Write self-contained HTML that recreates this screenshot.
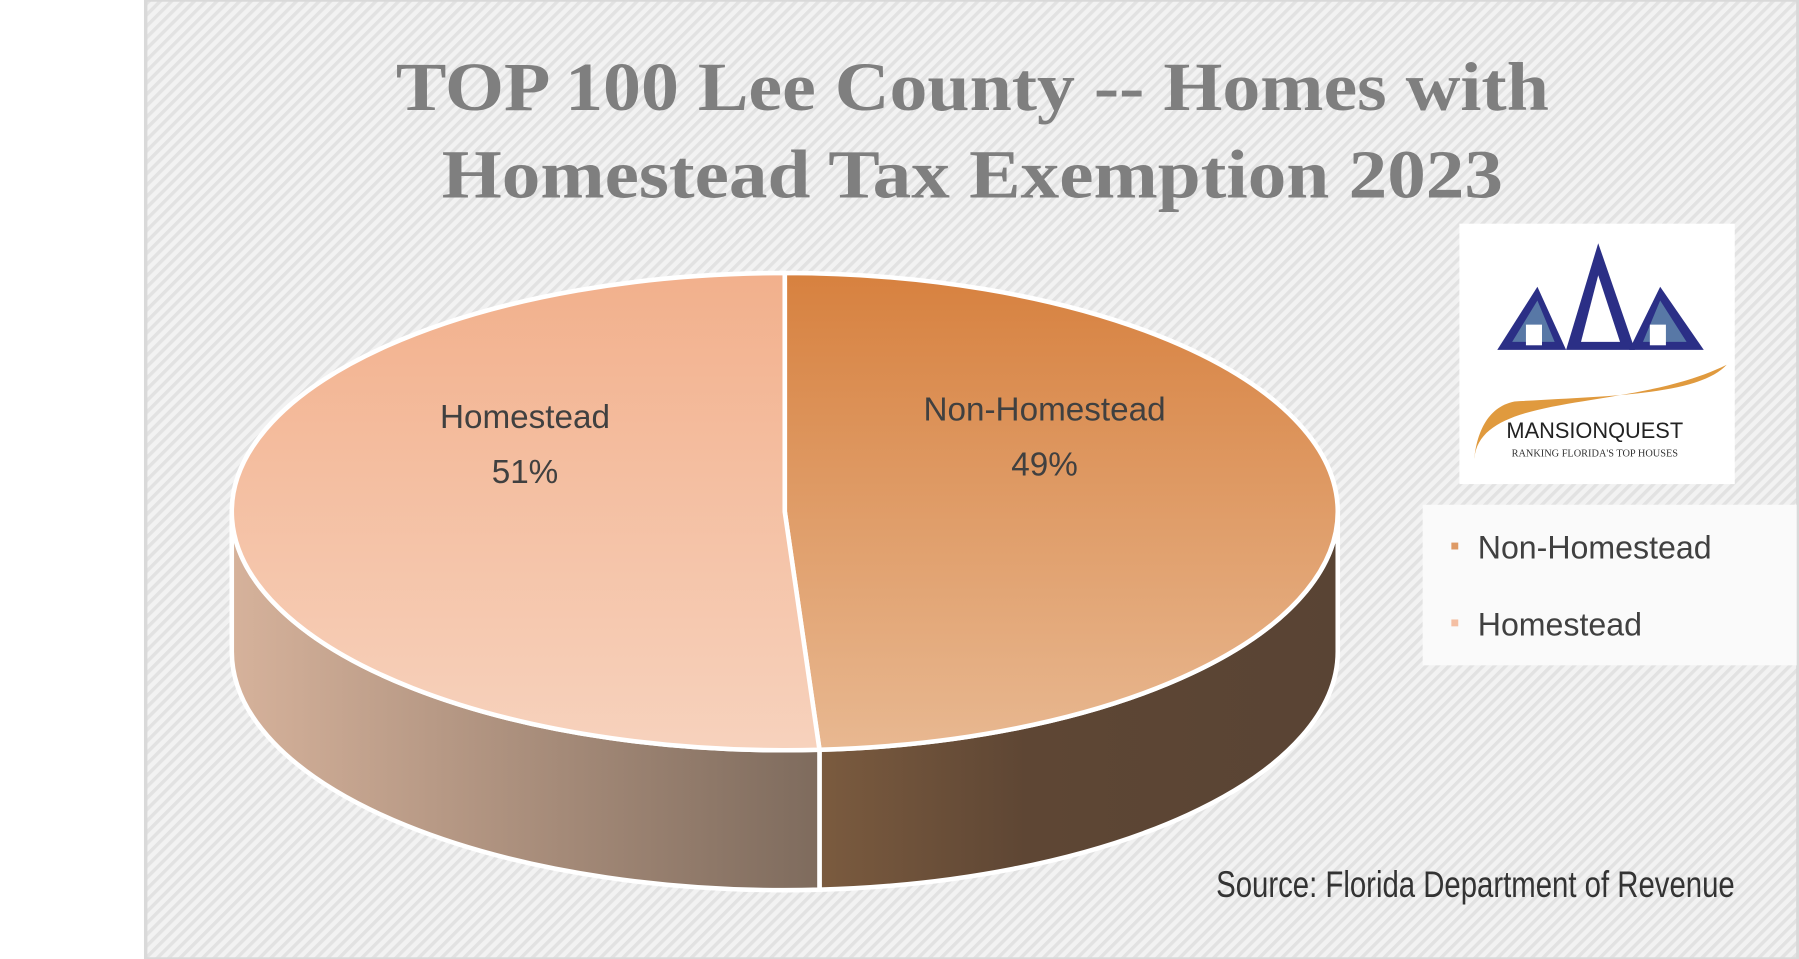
<!DOCTYPE html>
<html><head><meta charset="utf-8">
<style>
html,body{margin:0;padding:0;background:#fff;}
svg{display:block;}
</style></head>
<body>
<svg id="chart" width="1799" height="959" viewBox="0 0 1568 836" preserveAspectRatio="none" xmlns="http://www.w3.org/2000/svg">
<defs>
<pattern id="hatch" width="7" height="7" patternUnits="userSpaceOnUse" patternTransform="rotate(45)">
<rect width="7" height="7" fill="#f2f2f2"/>
<rect width="3" height="7" fill="#e2e2e2"/>
</pattern>
<linearGradient id="gNon" x1="0" y1="0" x2="0" y2="1">
<stop offset="0" stop-color="#d7813f"/><stop offset="1" stop-color="#e8b891"/>
</linearGradient>
<linearGradient id="gHome" x1="0" y1="0" x2="0" y2="1">
<stop offset="0" stop-color="#f2b08c"/><stop offset="1" stop-color="#f7d2bd"/>
</linearGradient>
<linearGradient id="sHome" x1="0" y1="0" x2="1" y2="0">
<stop offset="0" stop-color="#d6b29b"/><stop offset="1" stop-color="#7e6b5d"/>
</linearGradient>
<linearGradient id="sNon" x1="0" y1="0" x2="1" y2="0">
<stop offset="0" stop-color="#7b5b3f"/><stop offset="0.4" stop-color="#5e4634"/><stop offset="1" stop-color="#594434"/>
</linearGradient>
</defs>
<rect x="127" y="0" width="1440" height="836" fill="url(#hatch)" stroke="#d9d9d9" stroke-width="3"/>
<g font-family="'Liberation Serif',serif" font-weight="bold" font-size="60" fill="#7f7f7f">
<text x="345" y="96" textLength="1005" lengthAdjust="spacingAndGlyphs">TOP 100 Lee County -- Homes with</text>
<text x="385" y="172" textLength="925" lengthAdjust="spacingAndGlyphs">Homestead Tax Exemption 2023</text>
</g>
<g id="pie"></g>
<g id="labels" font-family="'Liberation Sans',sans-serif" font-size="29" fill="#404040" text-anchor="middle"></g>
<rect x="1272" y="195" width="240" height="227" fill="#fff"/>
<g>
<polygon points="1305,305 1340,250 1365,305" fill="#2b2f86"/>
<polygon points="1318,298 1340,262 1355,298" fill="#5878a6"/>
<polygon points="1365,305 1393,212 1425,305" fill="#2b2f86"/>
<polygon points="1378,298 1393,240 1412,298" fill="#fff"/>
<polygon points="1420,305 1447,250 1485,305" fill="#2b2f86"/>
<polygon points="1432,298 1447,262 1470,298" fill="#5878a6"/>
<rect x="1330" y="283" width="14" height="18" fill="#fff"/>
<rect x="1438" y="283" width="14" height="18" fill="#fff"/>
<circle cx="1393" cy="280" r="8" fill="#fff"/>
<path d="M1285,400 C1290,340 1420,360 1505,318 C1480,345 1400,345 1320,350 C1295,355 1287,380 1285,400 Z" fill="#e09a3e"/>
<text x="1390" y="382" font-family="'Liberation Sans',sans-serif" font-size="19" fill="#222" text-anchor="middle">MANSIONQUEST</text>
<text x="1390" y="398" font-family="'Liberation Serif',serif" font-size="9" fill="#333" text-anchor="middle">RANKING FLORIDA'S TOP HOUSES</text>
</g>
<rect x="1240" y="440" width="326" height="140" fill="#fafafa"/>
<g font-family="'Liberation Sans',sans-serif" font-size="28" fill="#404040">
<g><rect x="1265" y="473" width="6" height="6" fill="#de9a66"/><text x="1288" y="487">Non-Homestead</text></g>
<g><rect x="1265" y="540" width="6" height="6" fill="#f4bfa3"/><text x="1288" y="554">Homestead</text></g>
</g>
<text x="1060" y="782" font-family="'Liberation Sans Narrow','Liberation Sans',sans-serif" font-size="32" fill="#333" textLength="452" lengthAdjust="spacingAndGlyphs">Source: Florida Department of Revenue</text>
<script>
const categories = ["Non-Homestead", "Homestead"];
const values = [49, 51];
const cx = 684, cy = 446, rx = 482, ry = 208, depth = 122;
const tops = ["url(#gNon)", "url(#gHome)"];
const sides = ["url(#sNon)", "url(#sHome)"];
const NS = "http://www.w3.org/2000/svg";
const pie = document.getElementById('pie');
const lab = document.getElementById('labels');
const total = values.reduce((a, b) => a + b, 0);
function pt(a, dy) { return [cx + rx * Math.sin(a), cy - ry * Math.cos(a) + (dy || 0)]; }
let start = 0;
const arcs = values.map(v => { const a0 = start; start += v / total * 2 * Math.PI; return [a0, start]; });
arcs.forEach(([a0, a1], i) => {
  const s = Math.max(a0, Math.PI / 2), e = Math.min(a1, 3 * Math.PI / 2);
  if (e <= s) return;
  const p0 = pt(s), p1 = pt(e), q1 = pt(e, depth), q0 = pt(s, depth);
  const d = `M${p0} A${rx},${ry} 0 0 1 ${p1} L${q1} A${rx},${ry} 0 0 0 ${q0} Z`;
  const el = document.createElementNS(NS, 'path');
  el.setAttribute('d', d);
  el.setAttribute('fill', sides[i]);
  el.setAttribute('stroke', '#fff');
  el.setAttribute('stroke-width', '4');
  
  
  pie.appendChild(el);
});
arcs.forEach(([a0, a1], i) => {
  const p0 = pt(a0), p1 = pt(a1);
  const large = (a1 - a0) > Math.PI ? 1 : 0;
  const d = `M${cx},${cy} L${p0} A${rx},${ry} 0 ${large} 1 ${p1} Z`;
  const el = document.createElementNS(NS, 'path');
  el.setAttribute('d', d);
  el.setAttribute('fill', tops[i]);
  el.setAttribute('stroke', '#fff');
  el.setAttribute('stroke-width', '4');
  el.setAttribute('stroke-linejoin', 'round');
  
  
  pie.appendChild(el);
  const mid = (a0 + a1) / 2;
  const lx = cx + rx * 0.47 * Math.sin(mid), ly = cy - ry * 0.5 * Math.cos(mid) - 76;
  const t = document.createElementNS(NS, 'text');
  
  
  t.setAttribute('x', lx); t.setAttribute('y', ly);
  const s1 = document.createElementNS(NS, 'tspan');
  s1.setAttribute('x', lx); s1.textContent = categories[i];
  const s2 = document.createElementNS(NS, 'tspan');
  s2.setAttribute('x', lx); s2.setAttribute('dy', '48'); s2.textContent = values[i] + '%';
  t.appendChild(s1); t.appendChild(s2);
  lab.appendChild(t);
});
</script>
</svg>
</body></html>
